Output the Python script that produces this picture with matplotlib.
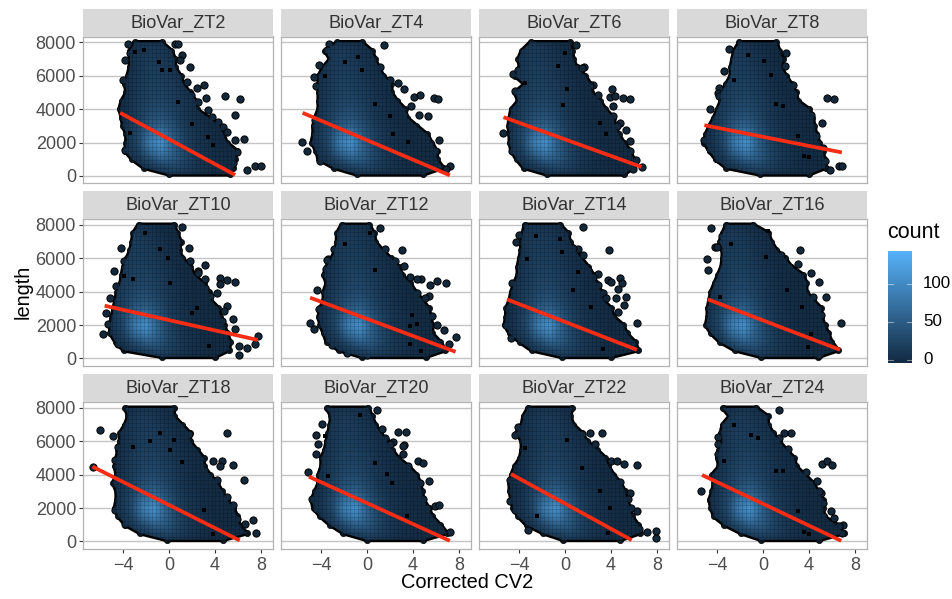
import numpy as np
import matplotlib
matplotlib.use("Agg")
import matplotlib.pyplot as plt
from matplotlib.colors import LinearSegmentedColormap
from matplotlib.patches import Polygon

plt.rcParams["font.family"] = ["Liberation Sans", "DejaVu Sans"]

W, H = 953, 599

panel_names = ["BioVar_ZT2", "BioVar_ZT4", "BioVar_ZT6", "BioVar_ZT8",
               "BioVar_ZT10", "BioVar_ZT12", "BioVar_ZT14", "BioVar_ZT16",
               "BioVar_ZT18", "BioVar_ZT20", "BioVar_ZT22", "BioVar_ZT24"]

# cloud outline: left / right x at each length level, top to bottom
levels = [8000, 7500, 7000, 6500, 6000, 5500, 5000, 4500, 4000, 3500, 3000, 2500, 2000, 1500, 1000, 500, 100]

left_zt2 = [-2.96, -3.4, -3.4, -3.4, -3.6, -3.8, -3.7, -4.1, -4.3, -4.1, -4.0, -3.7, -3.7, -3.8, -3.2, -2.2, 0.0]
right_zt2 = [-0.64, 0.2, 0.5, 0.5, 1.0, 1.2, 1.8, 2.3, 2.4, 3.4, 4.4, 4.7, 5.0, 5.9, 5.7, 5.6, 5.3]
left_zt4 = [-2.6, -3.65, -3.2, -3.8, -4.2, -4.2, -4.2, -4.2, -4.2, -4.5, -4.65, -4.65, -4.8, -4.4, -4.2, -2.9, -0.9]
right_zt4 = [-0.45, 0.4, 0.7, 1.0, 1.4, 2.1, 2.1, 2.6, 3.3, 3.45, 4.3, 5.2, 5.6, 6.05, 6.05, 6.6, 4.9]
left_zt6 = [-3.0, -3.75, -4.05, -3.9, -4.35, -3.5, -4.35, -4.05, -4.65, -4.8, -4.9, -4.8, -4.8, -4.65, -4.2, -3.6, -1.6]
right_zt6 = [0.45, 0.6, 0.7, 1.0, 1.75, 2.2, 2.3, 3.05, 3.5, 4.2, 4.35, 4.65, 5.1, 5.65, 5.95, 5.95, 5.1]
left_zt8 = [-2.05, -2.5, -2.65, -2.8, -2.8, -3.2, -3.65, -3.65, -3.95, -4.25, -4.65, -4.95, -5.1, -4.65, -4.1, -3.2, -0.3]
right_zt8 = [1.15, 1.4, 1.7, 1.55, 2.0, 2.45, 2.85, 3.0, 4.0, 4.3, 4.45, 4.6, 4.9, 5.2, 5.3, 5.45, 4.0]
left_zt10 = [-2.65, -3.1, -3.2, -3.35, -3.65, -3.95, -4.1, -4.2, -4.5, -4.65, -4.8, -4.95, -5.1, -5.1, -4.65, -3.95, -0.6]
right_zt10 = [0.4, 0.7, 1.0, 0.85, 1.15, 1.85, 2.15, 3.0, 3.45, 3.6, 4.3, 4.45, 4.75, 5.05, 5.3, 5.2, 4.0]
left_zt12 = [-2.2, -2.6, -2.6, -2.75, -3.05, -3.5, -3.75, -3.5, -3.75, -3.75, -4.05, -4.2, -4.05, -3.75, -3.5, -2.45, -0.45]
right_zt12 = [0.15, 0.6, 0.7, 1.3, 2.05, 2.75, 3.05, 3.75, 4.2, 4.8, 5.35, 5.5, 5.65, 5.65, 6.35, 6.8, 5.1]
left_zt14 = [-3.5, -3.65, -3.8, -3.8, -3.95, -4.1, -4.1, -4.4, -4.65, -4.8, -5.1, -5.1, -5.25, -4.8, -3.95, -2.9, -0.3]
right_zt14 = [-0.45, 0.25, 0.4, 0.85, 1.4, 2.0, 2.45, 2.7, 3.15, 3.3, 4.0, 4.2, 5.05, 5.35, 6.05, 6.35, 4.0]
left_zt16 = [-3.2, -3.5, -3.75, -3.5, -3.5, -3.6, -3.9, -4.2, -4.5, -4.65, -4.8, -4.8, -4.95, -4.5, -3.75, -2.45, -0.15]
right_zt16 = [-0.85, 0.45, 0.7, 1.15, 1.9, 2.45, 3.5, 3.75, 3.75, 4.35, 5.05, 5.05, 5.35, 5.65, 5.95, 6.5, 4.8]
left_zt18 = [-3.8, -3.55, -3.8, -4.25, -4.25, -4.4, -4.55, -4.7, -4.55, -4.85, -4.55, -4.55, -4.7, -4.4, -3.8, -2.5, -0.2]
right_zt18 = [0.4, 0.4, 1.1, 1.8, 1.8, 2.4, 3.0, 3.0, 3.55, 4.15, 4.6, 5.0, 5.6, 5.9, 6.05, 6.75, 4.7]
left_zt20 = [-3.5, -3.1, -3.2, -3.35, -3.5, -3.65, -3.95, -3.95, -4.2, -4.2, -4.5, -4.8, -4.65, -4.05, -3.2, -2.05, 0.0]
right_zt20 = [0.1, 0.4, 0.7, 1.15, 1.7, 2.15, 2.7, 3.6, 4.3, 4.6, 4.75, 4.9, 5.35, 5.65, 6.35, 6.95, 4.9]
left_zt22 = [-3.2, -3.6, -3.75, -4.2, -3.75, -3.75, -3.9, -4.35, -4.65, -4.8, -4.8, -4.65, -4.5, -4.05, -3.35, -1.9, -0.15]
right_zt22 = [0.6, 0.45, 0.7, 1.45, 1.9, 2.75, 3.5, 3.75, 4.2, 4.8, 5.2, 5.35, 5.65, 5.8, 6.35, 6.5, 4.8]
left_zt24 = [-3.5, -2.9, -3.5, -3.65, -3.5, -3.8, -3.95, -3.8, -4.4, -4.25, -4.4, -4.65, -4.5, -4.25, -3.35, -1.9, -0.15]
right_zt24 = [-0.6, 0.4, 0.4, 0.85, 1.4, 2.0, 2.7, 2.85, 3.6, 4.35, 4.75, 5.2, 5.2, 5.3, 6.35, 7.0, 4.9]

# stray points outside the cloud, then the ones crowding its edge
out_zt2 = [(-3.6, 7920), (-3.4, 7380), (-3.8, 6960), (0.5, 7920), (0.8, 7880), (1.1, 7220), (1.8, 6530), (-4.0, 5730),
           (2.4, 5290), (3.0, 5470), (3.2, 4680), (4.9, 4800), (6.2, 4580), (5.7, 3640), (6.5, 2190), (6.8, 360),
           (7.5, 600), (8.0, 600),
           (0.95, 6920), (1.55, 5630), (1.95, 4840), (2.55, 4440), (3.4, 3940), (3.7, 3540), (4.3, 3240), (4.7, 2950),
           (5.0, 2650), (5.75, 2150), (5.3, 1550), (5.9, 1450), (5.6, 760), (-4.1, 3940), (-3.8, 1550)]
out_zt4 = [(-3.3, 7920), (-3.5, 7560), (1.5, 7860), (-4.15, 6670), (-4.6, 5930), (2.7, 5570), (3.2, 5230), (4.1, 4720),
           (4.6, 4820), (5.8, 4640), (6.2, 4580), (3.8, 4180), (4.55, 3680), (5.3, 3620), (-5.65, 2050), (-5.2, 1470),
           (6.3, 2150), (7.2, 600), (6.9, 400), (5.9, 1490),
           (1.1, 6530), (2.0, 5730), (1.85, 5270), (2.3, 4080), (3.2, 3680), (4.2, 2790), (5.2, 2190), (5.35, 1590),
           (5.2, 900), (-4.4, 5370), (-4.5, 3380), (-4.1, 900)]
out_zt6 = [(0.95, 7860), (-4.5, 6130), (1.65, 6500), (1.0, 6470), (4.05, 5210), (2.45, 5470), (3.9, 4720), (4.35, 4780),
           (5.0, 4640), (5.65, 4580), (4.2, 4180), (4.8, 3180), (5.3, 2750), (-5.35, 2590), (5.65, 2090), (6.2, 960),
           (5.95, 400), (6.7, 540),
           (1.45, 6470), (2.15, 5370), (2.0, 5070), (2.9, 4820), (4.2, 3580), (4.5, 2990), (4.9, 1990), (5.65, 1490),
           (-3.75, 7160), (-4.05, 6370), (-4.35, 5070), (-4.65, 1490)]
out_zt8 = [(-3.0, 7600), (2.0, 7360), (1.95, 6570), (-3.4, 6270), (-3.8, 5270), (-3.9, 4940), (-4.6, 3980), (5.55, 4640),
           (6.2, 4580), (5.15, 3180), (4.2, 3680), (5.8, 340), (6.6, 600), (6.9, 600), (-5.15, 2150),
           (2.0, 5770), (2.6, 5470), (2.7, 4880), (2.45, 4280), (3.45, 3680), (4.0, 3180), (4.6, 2390), (5.2, 1690),
           (5.35, 900), (-3.95, 990), (-4.65, 1590), (-3.8, 4780)]
out_zt10 = [(1.15, 7880), (-4.2, 6590), (1.7, 6590), (-4.75, 5230), (3.15, 5570), (2.5, 5230), (4.4, 4840), (5.0, 4700),
            (5.75, 4600), (4.4, 4440), (3.1, 4240), (5.05, 3140), (4.75, 2850), (5.6, 2350), (5.75, 1750), (-5.45, 2750),
            (-5.3, 2090), (-5.7, 1450), (7.7, 1350), (7.5, 890), (6.05, 760), (6.8, 620), (6.05, 220), (-4.45, 890),
            (0.7, 6630), (1.85, 5830), (2.5, 5130), (3.15, 4740), (2.45, 4440), (3.6, 3740), (4.2, 3940), (4.0, 2750),
            (4.6, 2250), (-3.95, 5830), (-4.65, 4340), (-5.1, 3640), (-3.8, 660)]
out_zt12 = [(1.1, 7800), (-2.9, 6570), (3.05, 6470), (-3.4, 5930), (-4.35, 4080), (4.65, 4740), (5.45, 4380), (6.05, 4620),
            (6.85, 4540), (5.35, 3740), (-5.0, 2130), (-4.6, 1790), (6.05, 2010), (6.7, 1730), (7.75, 1270), (7.15, 860),
            (-1.75, 300), (-3.05, 820), (0.0, 200),
            (1.6, 6530), (2.45, 5830), (3.2, 5530), (2.75, 5130), (3.75, 4880), (4.35, 4780), (3.05, 4240), (4.35, 3940),
            (5.05, 3640), (5.65, 2550), (5.35, 1650), (-3.5, 5870), (-3.6, 5370), (-4.2, 2950)]
out_zt14 = [(1.6, 7880), (-4.0, 7410), (-4.3, 6960), (3.8, 6470), (1.1, 6530), (2.9, 5030), (3.75, 4700), (4.75, 4800),
            (4.95, 4500), (4.6, 4180), (3.3, 3920), (5.3, 3660), (5.1, 3220), (6.25, 2110), (-4.7, 1220), (-4.65, 4500),
            (0.7, 6630), (1.55, 6200), (2.0, 5300), (2.45, 4900), (2.9, 4400), (4.0, 4600), (3.6, 3600), (4.4, 3600),
            (4.6, 2790), (5.35, 1200), (-5.1, 2000)]
out_zt16 = [(-4.5, 7800), (-4.2, 6670), (-4.85, 5930), (-4.8, 5310), (3.2, 6470), (4.85, 4600), (4.2, 5090), (5.5, 3660),
            (6.8, 2110), (4.8, 2950), (4.9, 200),
            (0.9, 6470), (1.6, 6170), (2.3, 5470), (3.05, 5670), (2.6, 4780), (3.3, 4780), (3.5, 4080), (4.35, 3680),
            (5.05, 2590), (5.5, 1390), (-3.6, 7360), (-4.0, 6670), (-4.65, 2690), (-4.35, 1690)]
out_zt18 = [(-6.0, 6660), (-4.85, 6330), (-4.4, 5670), (-6.65, 4480), (5.0, 6510), (3.85, 4840), (4.6, 4840), (4.45, 4540),
            (5.6, 4580), (6.5, 3660), (7.3, 1290), (7.6, 500), (3.85, 3640), (1.7, 6430),
            (2.1, 4880), (3.0, 4280), (4.15, 3680), (5.0, 2670), (5.6, 2170), (5.9, 1370), (6.6, 1070), (-4.7, 4880),
            (-4.4, 3680), (-4.7, 1870), (-3.8, 1070)]
out_zt20 = [(0.85, 7900), (-3.9, 7040), (-4.4, 6400), (-4.3, 5810), (-4.45, 5250), (2.7, 6530), (3.35, 6530), (2.3, 5930),
            (3.2, 5750), (4.45, 4840), (4.9, 4680), (-5.1, 4140), (5.4, 3640), (5.9, 2150), (6.3, 2200), (7.2, 540),
            (1.3, 6710), (1.55, 6210), (2.0, 5810), (3.15, 5710), (3.15, 5210), (2.45, 4720), (3.6, 4520), (4.0, 3820),
            (4.6, 3520), (4.9, 2530), (5.2, 2030), (5.75, 1230), (6.35, 780), (-4.8, 2530), (-4.4, 1930)]
out_zt22 = [(-4.35, 6360), (2.15, 6520), (3.25, 6520), (2.6, 5810), (3.2, 4820), (4.0, 4820), (4.55, 4820), (5.15, 4660),
            (6.3, 4580), (4.8, 3220), (5.65, 2880), (5.75, 2000), (6.3, 1810), (7.1, 580), (7.95, 620), (7.95, 180),
            (6.4, 760), (-4.8, 3700),
            (0.7, 6710), (1.45, 6410), (1.6, 5810), (3.75, 4280), (4.2, 3780), (4.8, 3580), (5.5, 2570), (5.2, 2270),
            (5.5, 1370), (-4.8, 2450), (-4.35, 1870), (-3.2, 680), (-4.05, 6870)]
out_zt24 = [(1.35, 7860), (-3.9, 6260), (2.45, 6520), (1.85, 6520), (1.4, 6220), (2.15, 5530), (1.75, 5330), (5.1, 4660),
            (5.55, 4820), (6.0, 4580), (3.7, 4160), (4.65, 3640), (-5.4, 3020), (5.05, 2900), (5.9, 1810), (6.15, 1410),
            (6.95, 1010), (6.85, 500), (-4.1, 1910),
            (0.7, 6210), (1.0, 5810), (2.45, 4820), (2.6, 4520), (3.75, 3620), (4.9, 3030), (5.2, 2330), (4.6, 1730),
            (5.2, 1530), (5.9, 840), (6.6, 940), (-3.9, 5210), (-3.9, 5810), (-4.4, 2530)]

# small black holes between the tiles
gaps_zt2 = [(-0.9, 6830), (-0.6, 6330), (0.1, 6330), (0.8, 4440), (2.0, 3140), (3.4, 2350), (3.85, 1850), (-3.0, 7420),
            (-3.4, 2550), (-2.2, 7520)]
gaps_zt4 = [(-1.9, 6800), (-0.75, 7120), (-0.45, 6370), (0.7, 4280), (2.0, 3620), (2.3, 2490), (3.6, 2030), (-3.65, 5970)]
gaps_zt6 = [(0.0, 7360), (-0.6, 6570), (-0.15, 4220), (0.15, 5210), (3.05, 3180), (3.6, 2490), (-3.5, 5570), (3.9, 1190)]
gaps_zt8 = [(-1.35, 7260), (0.1, 6870), (0.7, 6070), (1.1, 4280), (1.7, 4180), (3.55, 1190), (4.0, 1150), (3.0, 2390),
            (-2.5, 5770)]
gaps_zt10 = [(-2.05, 7520), (-0.75, 6530), (-0.1, 6030), (-3.1, 4740), (0.1, 4540), (2.0, 2750), (2.45, 3040), (3.45, 760),
             (-3.95, 4930)]
gaps_zt12 = [(0.3, 7500), (-1.9, 6830), (0.7, 5270), (3.9, 2590), (3.75, 1950), (4.35, 2050), (3.75, 860), (4.65, 460)]
gaps_zt14 = [(-2.5, 7360), (-0.45, 7160), (-0.3, 6370), (-3.35, 5970), (0.7, 4080), (2.3, 3080), (3.3, 560), (1.15, 5170)]
gaps_zt16 = [(0.45, 7660), (-2.75, 6870), (0.3, 6070), (-3.75, 3680), (4.2, 1490), (3.9, 700), (3.35, 3080), (2.05, 4080)]
gaps_zt18 = [(-1.65, 6030), (-3.1, 5670), (-0.8, 6480), (0.1, 5480), (1.1, 4780), (0.4, 6090), (3.0, 1870), (3.85, 460)]
gaps_zt20 = [(-0.6, 7600), (-3.65, 6310), (0.7, 4720), (1.7, 4020), (2.15, 3520), (3.45, 1530), (-3.35, 3920)]
gaps_zt22 = [(-3.5, 5570), (0.15, 6070), (1.45, 4380), (3.05, 3000), (3.9, 2000), (3.75, 500), (-2.45, 1530)]
gaps_zt24 = [(-2.5, 7000), (-1.05, 6400), (-0.45, 6210), (-3.35, 4820), (1.1, 4220), (1.7, 4220), (3.0, 1830), (3.6, 540),
             (4.0, 440)]

# fitted line ends: x0, length0, x1, length1
fit_zt2 = [-4.25, 3780, 5.75, 60]
fit_zt4 = [-5.6, 3780, 7.2, 40]
fit_zt6 = [-5.35, 3520, 6.65, 540]
fit_zt8 = [-5.1, 3040, 6.85, 1410]
fit_zt10 = [-5.6, 3160, 7.7, 1110]
fit_zt12 = [-4.95, 3640, 7.7, 400]
fit_zt14 = [-5.05, 3540, 6.25, 520]
fit_zt16 = [-4.8, 3540, 6.7, 520]
fit_zt18 = [-6.65, 4480, 6.15, 60]
fit_zt20 = [-5.05, 3880, 7.2, 40]
fit_zt22 = [-4.7, 4040, 5.8, 80]
fit_zt24 = [-5.3, 3980, 6.8, 40]

# how far each panel's bright spot sits from the shared count table
peak_shift = [0.3, -0.4, -0.7, -0.5, -1.0, 0.3, -0.4, -0.7, -0.3, 0.0, 0.2, -0.1]

count_x = [-6, -5, -4, -3, -2, -1, 0, 1, 2, 3, 4, 5, 6, 7, 8]
count_y = [0, 500, 1000, 1500, 2000, 2500, 3000, 3500, 4000, 4500, 5000, 5500, 6000, 6500, 7000, 7500, 8000]
counts = [
    [0, 0, 0, 1, 3, 6, 8, 6, 4, 2, 1, 0, 0, 0, 0],
    [0, 0, 1, 4, 13, 24, 30, 22, 12, 6, 3, 1, 0, 0, 0],
    [0, 1, 4, 12, 36, 58, 50, 28, 14, 7, 3, 1, 0, 0, 0],
    [0, 1, 7, 24, 68, 90, 58, 30, 14, 7, 3, 1, 0, 0, 0],
    [0, 1, 10, 32, 88, 108, 60, 27, 12, 6, 2, 1, 0, 0, 0],
    [0, 1, 10, 32, 74, 88, 50, 24, 11, 5, 2, 1, 0, 0, 0],
    [0, 1, 9, 27, 52, 60, 40, 19, 9, 4, 1, 0, 0, 0, 0],
    [0, 1, 8, 23, 40, 45, 31, 15, 7, 3, 1, 0, 0, 0, 0],
    [0, 1, 7, 20, 32, 35, 25, 13, 6, 2, 1, 0, 0, 0, 0],
    [0, 1, 6, 18, 28, 30, 22, 12, 5, 1, 0, 0, 0, 0, 0],
    [0, 0, 5, 16, 25, 26, 19, 10, 4, 1, 0, 0, 0, 0, 0],
    [0, 0, 4, 15, 23, 23, 16, 8, 3, 0, 0, 0, 0, 0, 0],
    [0, 0, 4, 14, 22, 21, 14, 6, 2, 0, 0, 0, 0, 0, 0],
    [0, 0, 3, 14, 20, 19, 12, 5, 1, 0, 0, 0, 0, 0, 0],
    [0, 0, 3, 14, 19, 17, 10, 4, 0, 0, 0, 0, 0, 0, 0],
    [0, 0, 3, 12, 17, 14, 7, 2, 0, 0, 0, 0, 0, 0, 0],
    [0, 0, 2, 7, 10, 8, 3, 1, 0, 0, 0, 0, 0, 0, 0],
]

lefts = [left_zt2, left_zt4, left_zt6, left_zt8, left_zt10, left_zt12, left_zt14, left_zt16,
         left_zt18, left_zt20, left_zt22, left_zt24]
rights = [right_zt2, right_zt4, right_zt6, right_zt8, right_zt10, right_zt12, right_zt14, right_zt16,
          right_zt18, right_zt20, right_zt22, right_zt24]
outs = [out_zt2, out_zt4, out_zt6, out_zt8, out_zt10, out_zt12, out_zt14, out_zt16,
        out_zt18, out_zt20, out_zt22, out_zt24]
gaps = [gaps_zt2, gaps_zt4, gaps_zt6, gaps_zt8, gaps_zt10, gaps_zt12, gaps_zt14, gaps_zt16,
        gaps_zt18, gaps_zt20, gaps_zt22, gaps_zt24]
fits = [fit_zt2, fit_zt4, fit_zt6, fit_zt8, fit_zt10, fit_zt12, fit_zt14, fit_zt16,
        fit_zt18, fit_zt20, fit_zt22, fit_zt24]

COL_LEFT = [83, 281, 479, 677]
PANEL_W = 190
ROW_TOP = [36.5, 219, 402]
PANEL_H = 146.5
STRIP_H = 28

XLIM = (-7.48, 9.04)
YLIM = (-420, 8350)
TEXT_GREY = "#4D4D4D"
BORDER = "#B3B3B3"
RED = "#F62D14"
CMAP = LinearSegmentedColormap.from_list("gg", ["#132B43", "#56B1F7"])
VMIN, VMAX = 0, 143


def pixelAxes(fig, left, top, width, height):
    return fig.add_axes([left / W, 1 - (top + height) / H, width / W, height / H])


def drawPanel(ax, i):
    ax.set_xlim(*XLIM)
    ax.set_ylim(*YLIM)
    ax.set_yticks([0, 2000, 4000, 6000, 8000])
    ax.set_xticks([-4, 0, 4, 8])
    ax.grid(True, axis="y", color="#C4C4C4", lw=1.0, zorder=0)
    ax.set_axisbelow(True)
    for s in ax.spines.values():
        s.set_color(BORDER)
        s.set_linewidth(0.9)

    left = lefts[i]
    right = rights[i]
    hull = list(zip(left, levels)) + list(zip(right[::-1], levels[::-1]))

    # black points sit under the tiles, they only show at the edge of the cloud
    ax.add_patch(Polygon(hull, closed=True, fc="black", ec="black", lw=3.4, joinstyle="round", zorder=2))
    ax.scatter(left + right, levels + levels, s=20, c="#0C1620", edgecolors="black", lw=0.5, zorder=2)
    ox = [p[0] for p in outs[i]]
    oy = [p[1] for p in outs[i]]
    ax.scatter(ox, oy, s=27, c="#14283C", edgecolors="black", lw=0.7, zorder=2.5)

    sx = peak_shift[i]
    extent = (count_x[0] - 0.5 + sx, count_x[-1] + 0.5 + sx, count_y[0] - 250, count_y[-1] + 250)
    im = ax.imshow(np.array(counts), origin="lower", extent=extent, aspect="auto", cmap=CMAP,
                   vmin=VMIN, vmax=VMAX, interpolation="bilinear", zorder=3)
    clip = Polygon(hull, closed=True, transform=ax.transData)
    im.set_clip_path(clip)

    # faint bin lines of the 2d histogram
    xb = np.arange(-7.0, 8.5, 0.345)
    yb = np.arange(0, 8300, 245)
    v = ax.vlines(xb, 0, 8300, color="black", alpha=0.22, lw=0.5, zorder=4)
    h = ax.hlines(yb, -7.0, 8.5, color="black", alpha=0.22, lw=0.5, zorder=4)
    v.set_clip_path(clip)
    h.set_clip_path(clip)

    gx = [p[0] for p in gaps[i]]
    gy = [p[1] for p in gaps[i]]
    ax.scatter(gx, gy, s=5, marker="s", c="black", linewidths=0, zorder=4.5)

    f = fits[i]
    ax.plot([f[0], f[2]], [f[1], f[3]], color=RED, lw=2.7, solid_capstyle="butt", zorder=5)
    ax.set_xlim(*XLIM)
    ax.set_ylim(*YLIM)

    row = i // 4
    col = i % 4
    ax.tick_params(axis="x", length=3 if row == 2 else 0, color="#333333", width=0.8, labelsize=13,
                   labelcolor=TEXT_GREY, labelbottom=row == 2, pad=3)
    ax.tick_params(axis="y", length=3 if col == 0 else 0, color="#333333", width=0.8, labelsize=13,
                   labelcolor=TEXT_GREY, labelleft=col == 0, pad=2)
    if row == 2:
        ax.set_xticklabels(["\u22124", "0", "4", "8"])


def drawStrip(fig, i):
    row = i // 4
    col = i % 4
    st = pixelAxes(fig, COL_LEFT[col], ROW_TOP[row] - STRIP_H, PANEL_W, STRIP_H)
    st.set_facecolor("#D9D9D9")
    st.set_xticks([])
    st.set_yticks([])
    for s in st.spines.values():
        s.set_visible(False)
    st.text(0.5, 0.47, panel_names[i], ha="center", va="center", fontsize=13.1, color="#333333",
            transform=st.transAxes)


def drawLegend(fig):
    cb = pixelAxes(fig, 888, 251, 24, 112)
    lo, hi = -4, 143
    grad = np.linspace(lo, hi, 60).reshape(-1, 1)
    cb.imshow(grad, origin="lower", extent=(0, 1, lo, hi), aspect="auto", cmap=CMAP, vmin=lo, vmax=hi)
    cb.set_xticks([])
    cb.set_yticks([])
    for s in cb.spines.values():
        s.set_visible(False)
    for t in [0, 50, 100]:
        cb.plot([0, 0.2], [t, t], color="white", alpha=0.45, lw=0.8)
        cb.plot([0.8, 1], [t, t], color="white", alpha=0.45, lw=0.8)
        fig.text(923 / W, 1 - (360 - t * 0.76) / H, str(t), fontsize=12.2, color="black", va="center", ha="left")
    cb.set_xlim(0, 1)
    cb.set_ylim(lo, hi)
    fig.text(887 / W, 1 - 232 / H, "count", fontsize=15.5, color="black", va="center", ha="left")


def main():
    fig = plt.figure(figsize=(W / 100, H / 100), dpi=100, facecolor="white")
    for i in range(12):
        ax = pixelAxes(fig, COL_LEFT[i % 4], ROW_TOP[i // 4], PANEL_W, PANEL_H)
        drawPanel(ax, i)
        drawStrip(fig, i)
    drawLegend(fig)
    fig.text(467 / W, 1 - 583 / H, "Corrected CV2", fontsize=14.4, color="black", ha="center", va="center")
    fig.text(23 / W, 1 - 292 / H, "length", fontsize=14.4, color="black", ha="center", va="center", rotation=90)
    fig.savefig("out.png", dpi=100)


if __name__ == "__main__":
    main()
